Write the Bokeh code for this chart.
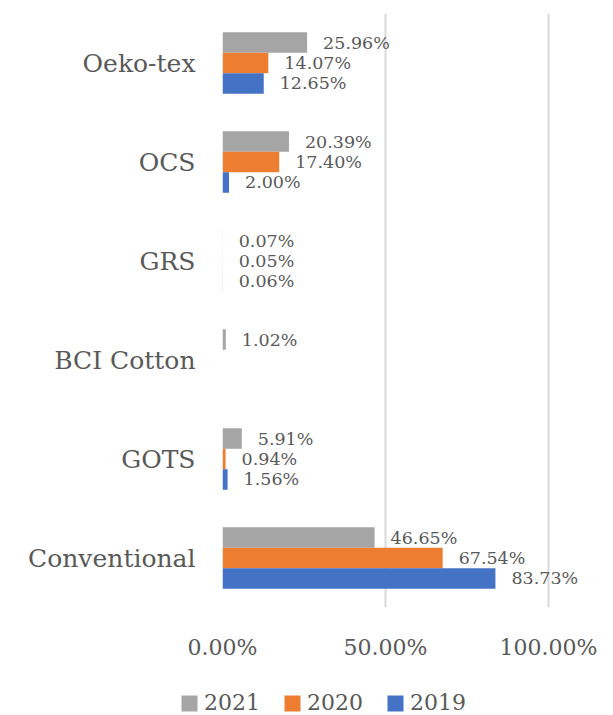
from bokeh.plotting import figure
from bokeh.layouts import column, row
from bokeh.models import ColumnDataSource, FixedTicker, Legend, LegendItem, Range1d
from bokeh.transform import dodge
from bokeh.core.properties import value
from bokeh.embed import file_html
from bokeh.resources import INLINE

categories = ["Oeko-tex", "OCS", "GRS", "BCI Cotton", "GOTS", "Conventional"]
series_names = ["2021", "2020", "2019"]
values_2021 = [25.96, 20.39, 0.07, 1.02, 5.91, 46.65]
values_2020 = [14.07, 17.40, 0.05, None, 0.94, 67.54]
values_2019 = [12.65, 2.00, 0.06, None, 1.56, 83.73]
series_values = [values_2021, values_2020, values_2019]
colors = ["#A5A5A5", "#ED7D31", "#4472C4"]
x_ticks = [0, 50, 100]
x_tick_labels = ["0.00%", "50.00%", "100.00%"]

FONT = "DejaVu Serif"
TEXT = "#595959"
GRID = "#D9D9D9"

p = figure(width=613, height=665, y_range=categories[::-1],
           x_range=Range1d(0, 112.9), output_backend="svg",
           toolbar_location=None, min_border_left=222, min_border_right=23,
           min_border_top=13, min_border_bottom=58)
p.outline_line_color = None
p.background_fill_color = "white"
p.border_fill_color = "white"

bar_h = 0.207
offsets = [bar_h, 0.0, -bar_h]
for name, vals, col, off in zip(series_names, series_values, colors, offsets):
    xs = [float("nan") if v is None else v for v in vals]
    lbl = ["" if v is None else f"{v:.2f}%" for v in vals]
    src = ColumnDataSource(dict(cat=categories, val=xs, lbl=lbl))
    p.hbar(y=dodge("cat", off, range=p.y_range), right="val", left=0,
           height=bar_h, source=src, fill_color=col, line_color=None)
    p.text(x="val", y=dodge("cat", off, range=p.y_range), text="lbl", source=src,
           x_offset=16, text_align="left", text_baseline="middle",
           text_font=value(FONT), text_font_size="17.5px", text_color=TEXT)

p.xaxis.ticker = FixedTicker(ticks=x_ticks)
p.xaxis.major_label_overrides = {t: l for t, l in zip(x_ticks, x_tick_labels)}
p.xaxis.axis_line_color = None
p.xaxis.major_tick_line_color = None
p.xaxis.minor_tick_line_color = None
p.xaxis.major_tick_out = 0
p.xaxis.major_label_standoff = 27
p.xaxis.major_label_text_font = FONT
p.xaxis.major_label_text_font_size = "22px"
p.xaxis.major_label_text_color = TEXT

p.yaxis.axis_line_color = None
p.yaxis.major_tick_line_color = None
p.yaxis.minor_tick_line_color = None
p.yaxis.major_tick_out = 0
p.yaxis.major_label_standoff = 27
p.yaxis.major_label_text_font = FONT
p.yaxis.major_label_text_font_size = "25px"
p.yaxis.major_label_text_color = TEXT

p.xgrid.grid_line_color = GRID
p.xgrid.grid_line_width = 2
p.ygrid.grid_line_color = None

# legend strip
lg = figure(width=613, height=50, x_range=(0, 1), y_range=(0, 1),
            x_axis_type=None, y_axis_type=None, output_backend="svg",
            toolbar_location=None, min_border=0)
lg.outline_line_color = None
lg.grid.visible = False
items = []
for name, col in zip(series_names, colors):
    r = lg.hbar(y=[-10], right=[0], left=0, height=0.5, fill_color=col, line_color=None)
    items.append(LegendItem(label=name, renderers=[r]))
legend = Legend(items=items, location=(179, 0), orientation="horizontal",
                glyph_width=20, glyph_height=20, label_standoff=5, spacing=22,
                padding=0, margin=0, border_line_color=None,
                background_fill_alpha=0, label_text_font=FONT,
                label_text_font_size="22px", label_text_color=TEXT)
lg.add_layout(legend)

layout = column(p, row(lg, spacing=0), spacing=0)
open("out.html", "w").write(file_html(layout, INLINE))
